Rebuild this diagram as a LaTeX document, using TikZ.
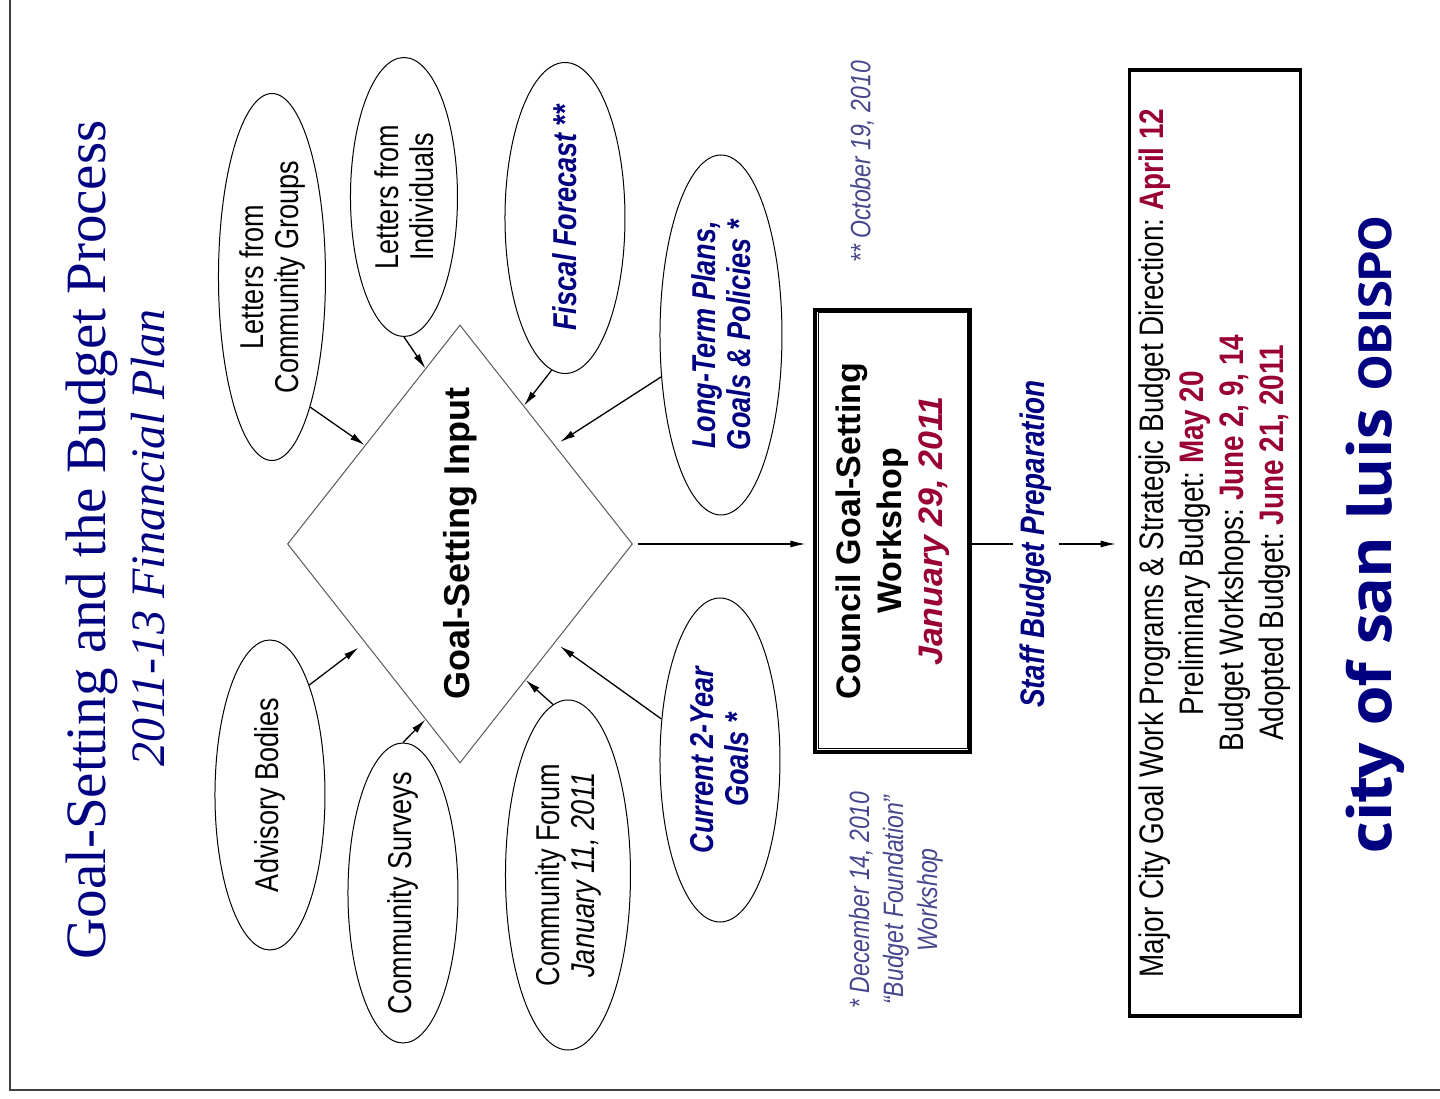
\documentclass[tikz,border=0pt]{standalone}
\usepackage{fontspec}
\setmainfont{Liberation Serif}
\setsansfont{Liberation Sans}
\newfontfamily\narrowsans[FakeStretch=0.82]{Liberation Sans}
\newfontfamily\logofont[FakeStretch=1.14]{PT Sans}
\usetikzlibrary{shapes.geometric,arrows.meta,calc}
\frenchspacing

\definecolor{navytext}{RGB}{0,0,128}
\definecolor{datered}{RGB}{153,0,51}
\definecolor{notecolor}{RGB}{70,70,140}

\tikzset{
  inputbox/.style={ellipse, draw, line width=1pt, inner xsep=-25pt, inner ysep=0pt, align=center,
    font=\narrowsans\fontsize{33}{35}\selectfont},
  keyinput/.style={inputbox, text=navytext,
    font=\narrowsans\bfseries\itshape\fontsize{33}{35}\selectfont},
  feed/.style={-{Latex[length=15pt,width=7pt]}, line width=1.3pt},
  note/.style={align=center, text=notecolor,
    font=\narrowsans\itshape\fontsize{28}{34}\selectfont}
}

\begin{document}
% laid out upright (1 unit = 1px), then turned a quarter left
\begin{tikzpicture}[x=1pt, y=1pt, rotate=90, transform shape]
\useasboundingbox (0,0) rectangle (1098,1440);

% frame
\draw[line width=2pt, black!75] (1098,1430) -- (8,1430) -- (8,0);

% heading
\node[text=navytext, font=\fontsize{57}{60}\selectfont] (title) at (558,1348) {Goal-Setting and the Budget Process};
\node[text=navytext, font=\itshape\fontsize{48}{50}\selectfont] (subtitle) at (560,1292) {2011-13 Financial Plan};

% centre
\node[diamond, draw=black!65, line width=1pt, minimum width=438pt, minimum height=345pt,
  inner sep=0pt, shape aspect=1.3, font=\sffamily\bfseries\fontsize{36}{40}\selectfont] (gsi) at (554,980) {Goal-Setting Input};

% inputs
\node[inputbox, minimum width=367pt, minimum height=107pt] (groups) at (821,1168) {Letters from\\Community Groups};
\node[inputbox, minimum width=279pt, minimum height=107pt] (letters) at (901,1036) {Letters from\\Individuals};
\node[keyinput, minimum width=311pt, minimum height=120pt] (fiscal) at (880,875) {Fiscal Forecast **};
\node[keyinput, minimum width=360pt, minimum height=122pt] (plans) at (763,719) {Long-Term Plans,\\Goals \& Policies *};
\node[inputbox, minimum width=310pt, minimum height=110pt] (advisory) at (303,1170) {Advisory Bodies};
\node[inputbox, minimum width=300pt, minimum height=110pt] (surveys) at (205,1037) {Community Surveys};
\node[inputbox, minimum width=350pt, minimum height=125pt] (forum) at (223,872) {Community Forum\\\textit{January 11, 2011}};
\node[keyinput, minimum width=324pt, minimum height=120pt] (goals) at (338,720) {Current 2-Year\\Goals *};

\draw[feed] (groups.south west) -- ($(gsi.north)!0.45!(gsi.east)$);
\draw[feed] (letters.west) -- ($(gsi.north)!0.8!(gsi.east)$);
\draw[feed] (fiscal.175) -- ($(gsi.east)!0.37!(gsi.south)$);
\draw[feed, shorten >=6pt] (plans.125) -- ($(gsi.east)!0.55!(gsi.south)$);
\draw[feed, shorten >=8pt] (advisory.south east) -- ($(gsi.north)!0.45!(gsi.west)$);
\draw[feed] (surveys.east) -- ($(gsi.north)!0.8!(gsi.west)$);
\draw[feed] (forum.5) -- ($(gsi.west)!0.38!(gsi.south)$);
\draw[feed, shorten >=6pt] (goals.55) -- ($(gsi.west)!0.55!(gsi.south)$);

% workshop
\node[draw, line width=4pt, minimum width=442pt, minimum height=155pt, align=center,
  font=\sffamily\bfseries\fontsize{34}{41}\selectfont] (council) at (567,547)
  {Council Goal-Setting\\Workshop\\\textcolor{datered}{\itshape January 29, 2011}};
\draw[line width=1pt] ([shift={(5,5)}]council.south west) rectangle ([shift={(-5,-5)}]council.north east);

\node[note] (octnote) at (936,578) {** October 19, 2010};
\node[note] (decnote) at (198,544) {* December 14, 2010\\“Budget Foundation”\\Workshop};

% budget dates
\node[draw, line width=3.5pt, minimum width=946pt, minimum height=171pt, align=center,
  font=\narrowsans\fontsize{34}{40}\selectfont] (plan) at (555,225)
  {Major City Goal Work Programs \& Strategic Budget Direction: \textcolor{datered}{\bfseries April 12}\\
   Preliminary Budget: \textcolor{datered}{\bfseries May 20}\\
   Budget Workshops: \textcolor{datered}{\bfseries June 2, 9, 14}\\
   Adopted Budget: \textcolor{datered}{\bfseries June 21, 2011}};

\draw[feed, shorten <=5pt, shorten >=8pt] (gsi.south) -- (gsi.south |- council.north);
\draw[feed, shorten >=12pt] (gsi.south |- council.south) --
  node[pos=0.41, fill=white, inner sep=7pt, text=navytext,
    font=\narrowsans\bfseries\itshape\fontsize{34}{36}\selectfont] (prep) {Staff Budget Preparation}
  (gsi.south |- plan.north);

\node[text=navytext, font=\logofont\bfseries\fontsize{64}{64}\selectfont] (logo) at (563,65)
  {city of san luis {\fontsize{46}{46}\selectfont OBISPO}};
\end{tikzpicture}
\end{document}
